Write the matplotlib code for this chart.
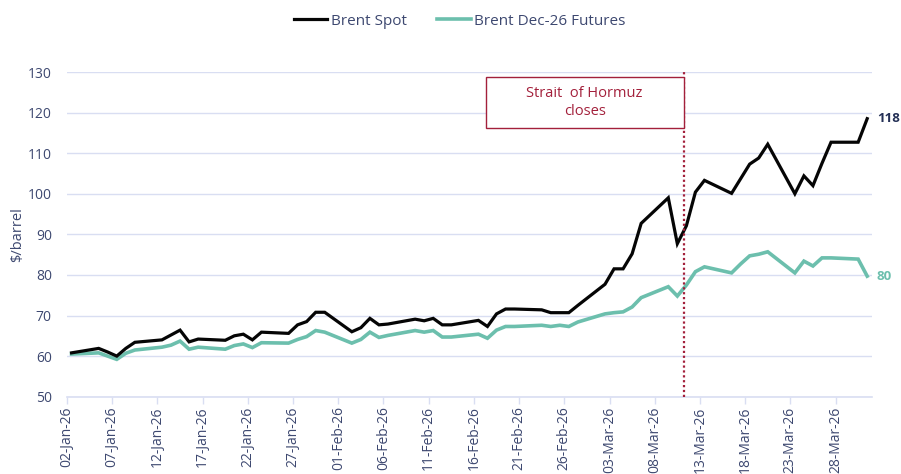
import matplotlib
matplotlib.use("Agg")
import matplotlib.pyplot as plt
import matplotlib.dates as mdates
from matplotlib.patches import Rectangle
import pandas as pd

# ---------------- data ----------------
dates = ["2026-01-02", "2026-01-05", "2026-01-06", "2026-01-07", "2026-01-08", "2026-01-09",
         "2026-01-12", "2026-01-13", "2026-01-14", "2026-01-15", "2026-01-16",
         "2026-01-19", "2026-01-20", "2026-01-21", "2026-01-22", "2026-01-23",
         "2026-01-26", "2026-01-27", "2026-01-28", "2026-01-29", "2026-01-30",
         "2026-02-02", "2026-02-03", "2026-02-04", "2026-02-05", "2026-02-06",
         "2026-02-09", "2026-02-10", "2026-02-11", "2026-02-12", "2026-02-13",
         "2026-02-16", "2026-02-17", "2026-02-18", "2026-02-19", "2026-02-20",
         "2026-02-23", "2026-02-24", "2026-02-25", "2026-02-26", "2026-02-27",
         "2026-03-02", "2026-03-03", "2026-03-04", "2026-03-05", "2026-03-06",
         "2026-03-09", "2026-03-10", "2026-03-11", "2026-03-12", "2026-03-13",
         "2026-03-16", "2026-03-17", "2026-03-18", "2026-03-19", "2026-03-20",
         "2026-03-23", "2026-03-24", "2026-03-25", "2026-03-26", "2026-03-27",
         "2026-03-30", "2026-03-31"]

brent_spot = [60.8, 61.9, 61.0, 60.0, 61.9, 63.4,
              64.0, 65.2, 66.4, 63.5, 64.2,
              63.9, 65.0, 65.4, 64.0, 65.9,
              65.6, 67.7, 68.5, 70.8, 70.8,
              66.0, 67.0, 69.3, 67.7, 67.9,
              69.1, 68.7, 69.3, 67.7, 67.7,
              68.8, 67.3, 70.4, 71.6, 71.6,
              71.4, 70.7, 70.7, 70.7, 72.5,
              77.7, 81.5, 81.5, 85.2, 92.7,
              99.0, 87.7, 92.1, 100.4, 103.3,
              100.1, 103.7, 107.3, 108.8, 112.2,
              100.0, 104.4, 102.0, 107.5, 112.7,
              112.7, 118.5]

brent_dec26 = [60.5, 60.8, 60.0, 59.2, 60.7, 61.5,
               62.2, 62.7, 63.7, 61.7, 62.2,
               61.7, 62.6, 63.0, 62.1, 63.3,
               63.2, 64.1, 64.8, 66.3, 65.9,
               63.2, 64.1, 65.9, 64.6, 65.1,
               66.3, 65.9, 66.3, 64.7, 64.7,
               65.4, 64.4, 66.4, 67.3, 67.3,
               67.6, 67.3, 67.6, 67.3, 68.4,
               70.4, 70.7, 70.9, 72.1, 74.4,
               77.1, 74.8, 77.5, 80.8, 82.0,
               80.5, 82.7, 84.7, 85.1, 85.7,
               80.5, 83.4, 82.2, 84.2, 84.2,
               83.9, 79.7]

series_names = ["Brent Spot", "Brent Dec-26 Futures"]
event_date = "2026-03-11 05:00"
event_text = "Strait  of Hormuz\ncloses"
y_ticks = [50, 60, 70, 80, 90, 100, 110, 120, 130]

# ---------------- styling ----------------
NAVY = "#3d4870"
TEAL = "#6cbfad"
BLACK = "#050505"
RED = "#a3203b"
GRID = "#d9def2"

plt.rcParams["font.family"] = ["Open Sans", "DejaVu Sans"]

fig = plt.figure(figsize=(9.01, 4.74), dpi=100)
ax = fig.add_axes([0.0744, 0.1631, 0.9675 - 0.0744, 0.8481 - 0.1631])

x = pd.to_datetime(dates) + pd.Timedelta(hours=12)

l1, = ax.plot(x, brent_spot, color=BLACK, lw=2.3, solid_joinstyle="miter", label=series_names[0], zorder=4)
l2, = ax.plot(x, brent_dec26, color=TEAL, lw=2.6, solid_joinstyle="miter", label=series_names[1], zorder=3)

ax.set_xlim(pd.Timestamp("2026-01-02"), pd.Timestamp("2026-04-01"))
ax.set_ylim(50, 130)
ax.set_yticks(y_ticks)

tick_dates = pd.date_range("2026-01-02", "2026-03-31", freq="5D")
ax.set_xticks(tick_dates)
ax.xaxis.set_major_formatter(mdates.DateFormatter("%d-%b-%y"))
for lab in ax.get_xticklabels():
    lab.set_rotation(90)
    lab.set_va("top")
    lab.set_ha("center")

ax.grid(axis="y", color=GRID, lw=1.0, zorder=0)
for s in ["top", "right", "left"]:
    ax.spines[s].set_visible(False)
ax.spines["bottom"].set_color(GRID)
ax.spines["bottom"].set_linewidth(1.2)

ax.tick_params(axis="y", length=0, pad=11, labelsize=10, labelcolor=NAVY)
ax.tick_params(axis="x", length=5, width=1, color=GRID, pad=2, labelsize=10, labelcolor=NAVY)

ax.set_ylabel("$/barrel", color=NAVY, fontsize=10.5, labelpad=2)

# event line
ev = pd.Timestamp(event_date)
ax.plot([ev, ev], [50, 130], color=RED, lw=1.6, ls=(0, (1, 1.2)), zorder=5, clip_on=False)

# annotation box
x0 = mdates.date2num(pd.Timestamp("2026-02-17 07:00"))
x1 = mdates.date2num(ev)
box = Rectangle((x0, 116.1), x1 - x0, 128.8 - 116.1, facecolor="white",
                edgecolor=RED, lw=1.0, zorder=6)
ax.add_patch(box)
ax.text((x0 + x1) / 2, 122.4, event_text, ha="center", va="center",
        color=RED, fontsize=10.5, linespacing=1.3, zorder=7)

# end labels
ax.annotate(f"{brent_spot[-1]:.0f}", xy=(x[-1], brent_spot[-1]), xytext=(7, 0),
            textcoords="offset points", color="#243056", fontsize=9.5,
            fontweight="bold", va="center", ha="left", annotation_clip=False)
ax.annotate(f"{brent_dec26[-1]:.0f}", xy=(x[-1], brent_dec26[-1]), xytext=(7, 0),
            textcoords="offset points", color=TEAL, fontsize=9.5,
            fontweight="bold", va="center", ha="left", annotation_clip=False)

leg = fig.legend(handles=[l1, l2], loc="upper center", bbox_to_anchor=(0.51, 1.0),
                 ncol=2, frameon=False, fontsize=11, handlelength=2.2,
                 handletextpad=0.2, columnspacing=2.0)
for t in leg.get_texts():
    t.set_color(NAVY)

fig.savefig("out.png", dpi=100)
